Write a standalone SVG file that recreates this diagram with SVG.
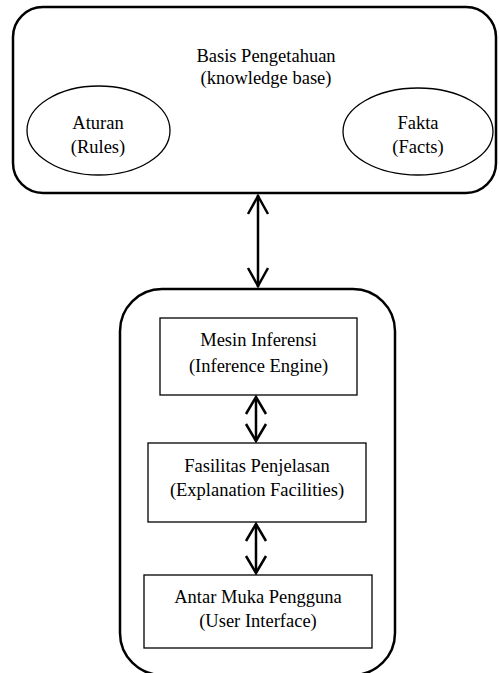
<svg xmlns="http://www.w3.org/2000/svg" width="499" height="673" viewBox="0 0 499 673">
  <style>
    .lbl { font-family: "Liberation Serif", "Times New Roman", "DejaVu Serif", serif; font-size: 18.5px; fill: #000; text-anchor: middle; }
    .frame { fill: #fff; stroke: #000; stroke-width: 2.5; }
    .box { fill: #fff; stroke: #000; stroke-width: 1.3; }
    .oval { fill: #fff; stroke: #000; stroke-width: 1.3; }
    .link { fill: none; stroke: #000; stroke-width: 2.5; }
    .tip { fill: none; stroke: #000; stroke-width: 2.5; stroke-linejoin: miter; }
  </style>
  <rect width="499" height="673" fill="#fff"/>

  <!-- knowledge base container -->
  <g id="knowledge-base">
    <rect class="frame" x="13" y="7" width="483" height="186" rx="30" ry="30"/>
    <text class="lbl" x="266" y="62">Basis Pengetahuan</text>
    <text class="lbl" x="266" y="84">(knowledge base)</text>
  </g>
  <g id="rules">
    <ellipse class="oval" cx="98.5" cy="130.5" rx="71.5" ry="44.5"/>
    <text class="lbl" x="98" y="129">Aturan</text>
    <text class="lbl" x="98" y="153">(Rules)</text>
  </g>
  <g id="facts">
    <ellipse class="oval" cx="418" cy="131.5" rx="75" ry="43.5"/>
    <text class="lbl" x="418" y="129">Fakta</text>
    <text class="lbl" x="418" y="153">(Facts)</text>
  </g>

  <!-- engine container, its lower edge runs just past the bottom -->
  <g id="engine-container">
    <rect class="frame" x="120" y="289" width="275" height="386" rx="42" ry="42"/>
  </g>
  <g id="inference-engine">
    <rect class="box" x="160" y="318" width="197" height="77"/>
    <text class="lbl" x="258.5" y="346">Mesin Inferensi</text>
    <text class="lbl" x="258.5" y="372">(Inference Engine)</text>
  </g>
  <g id="explanation-facilities">
    <rect class="box" x="148" y="443" width="218" height="79"/>
    <text class="lbl" x="257" y="472">Fasilitas Penjelasan</text>
    <text class="lbl" x="257" y="496">(Explanation Facilities)</text>
  </g>
  <g id="user-interface">
    <rect class="box" x="144" y="575" width="228" height="73"/>
    <text class="lbl" x="258" y="603">Antar Muka Pengguna</text>
    <text class="lbl" x="258" y="627">(User Interface)</text>
  </g>

  <!-- two-way connectors -->
  <g id="connectors">
    <line class="link" x1="258" y1="195" x2="258" y2="287"/>
    <polyline class="tip" points="248,214 258,196 268,214"/>
    <polyline class="tip" points="248,268 258,286 268,268"/>

    <line class="link" x1="256" y1="397" x2="256" y2="441"/>
    <polyline class="tip" points="246,414 256,397 266,414"/>
    <polyline class="tip" points="246,424 256,441 266,424"/>

    <line class="link" x1="256" y1="524" x2="256" y2="573"/>
    <polyline class="tip" points="246,541 256,524 266,541"/>
    <polyline class="tip" points="246,556 256,573 266,556"/>
  </g>
</svg>
